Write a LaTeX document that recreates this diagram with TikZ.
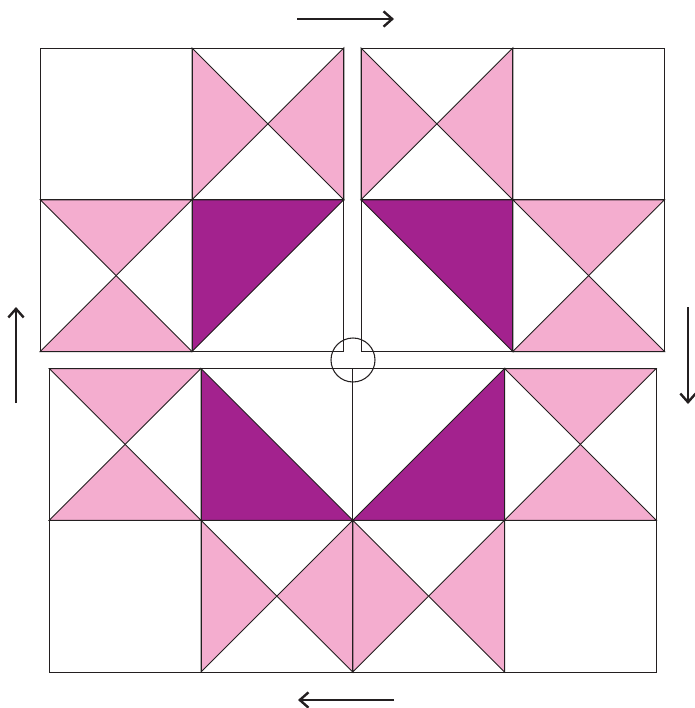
\documentclass[tikz,border=0pt]{standalone}
\usetikzlibrary{arrows.meta}
\definecolor{lightpink}{HTML}{F4ADCF}
\definecolor{deeppurple}{HTML}{A3228E}
\definecolor{inkline}{HTML}{231F20}
\tikzset{
  seam/.style={draw=inkline,line width=0.75pt,line join=miter},
  pinkpatch/.style={seam,fill=lightpink},
  darkpatch/.style={seam,fill=deeppurple},
  turnarrow/.style={draw=inkline,line width=1pt,-{Straight Barb[length=6.5pt,width=11.5pt,line width=1.8pt]}},
  % side-by-side triangles pinching at the centre
  pics/bowtie/.style={code={
    \draw[pinkpatch] (0,0) -- (75.875,75.875) -- (0,151.75) -- cycle;
    \draw[pinkpatch] (151.75,0) -- (75.875,75.875) -- (151.75,151.75) -- cycle;
    \draw[seam] (0,0) rectangle (151.75,151.75);
  }},
  % stacked triangles pinching at the centre
  pics/hourglass/.style={code={
    \draw[pinkpatch] (0,0) -- (151.75,0) -- (75.875,75.875) -- cycle;
    \draw[pinkpatch] (0,151.75) -- (151.75,151.75) -- (75.875,75.875) -- cycle;
    \draw[seam] (0,0) rectangle (151.75,151.75);
  }},
  pics/plainsq/.style={code={\draw[seam] (0,0) rectangle (151.75,151.75);}}
}
\begin{document}
\begin{tikzpicture}[x=0.75pt,y=-0.75pt]
\useasboundingbox (0,0) rectangle (694,708);
% top-left block
\pic at (40.25,48) {plainsq};
\pic at (192,48) {bowtie};
\pic at (40.25,199.75) {hourglass};
\draw[darkpatch] (192,199.75) -- (343.75,199.75) -- (192,351.5) -- cycle;
\draw[seam] (192,199.75) rectangle (343.75,351.5);
% top-right block
\pic at (361,48) {bowtie};
\pic at (512.75,48) {plainsq};
\draw[darkpatch] (361,199.75) -- (512.75,199.75) -- (512.75,351.5) -- cycle;
\draw[seam] (361,199.75) rectangle (512.75,351.5);
\pic at (512.75,199.75) {hourglass};
% bottom block
\pic at (49.25,368.5) {hourglass};
\draw[darkpatch] (201,368.5) -- (201,520.25) -- (352.75,520.25) -- cycle;
\draw[seam] (201,368.5) rectangle (352.75,520.25);
\draw[darkpatch] (504.5,368.5) -- (504.5,520.25) -- (352.75,520.25) -- cycle;
\draw[seam] (352.75,368.5) rectangle (504.5,520.25);
\pic at (504.5,368.5) {hourglass};
\pic at (49.25,520.25) {plainsq};
\pic at (201,520.25) {bowtie};
\pic at (352.75,520.25) {bowtie};
\pic at (504.5,520.25) {plainsq};
% centre ring
\node[circle,draw=inkline,line width=0.8pt,minimum size=33pt,inner sep=0pt] (ring) at (353,360) {};
% turning arrows
\coordinate (ta) at (297,19);  \coordinate (tb) at (394,19);
\coordinate (ra) at (688,307); \coordinate (rb) at (688,404);
\coordinate (ba) at (394,700); \coordinate (bb) at (298,700);
\coordinate (la) at (16,403);  \coordinate (lb) at (16,307);
\draw[turnarrow] (ta) -- (tb);
\draw[turnarrow] (ra) -- (rb);
\draw[turnarrow] (ba) -- (bb);
\draw[turnarrow] (la) -- (lb);
\end{tikzpicture}
\end{document}
